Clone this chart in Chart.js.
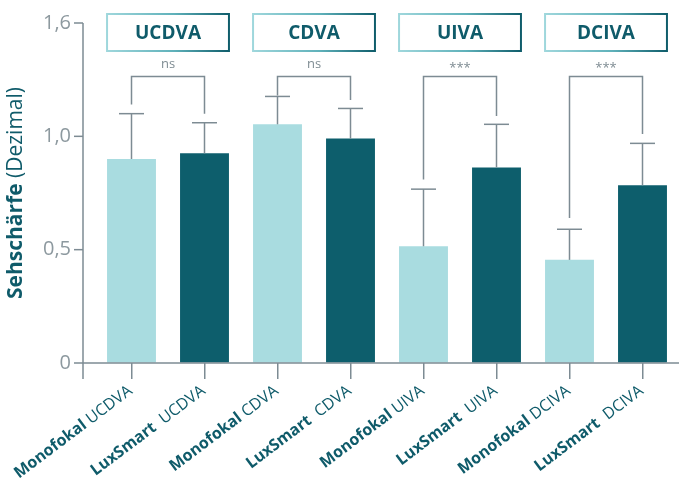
<!DOCTYPE html>
<html>
<head>
<meta charset="utf-8">
<script src="https://cdn.jsdelivr.net/npm/chart.js@4.4.1/dist/chart.umd.min.js"></script>
<style>
  html, body { margin: 0; padding: 0; background: #fff; }
</style>
</head>
<body>
<canvas id="chart" width="682" height="487"></canvas>
<script>
// groups and bar labels
const groups = ['UCDVA', 'CDVA', 'UIVA', 'DCIVA'];
const labelBold = ['Monofokal', 'LuxSmart', 'Monofokal', 'LuxSmart', 'Monofokal', 'LuxSmart', 'Monofokal', 'LuxSmart'];
const labelRest = ['UCDVA', 'UCDVA', 'CDVA', 'CDVA', 'UIVA', 'UIVA', 'DCIVA', 'DCIVA'];

// mean visual acuity and top of the error bar
const values = [0.90, 0.925, 1.053, 0.99, 0.515, 0.863, 0.455, 0.784];
const errorTops = [1.10, 1.06, 1.176, 1.123, 0.767, 1.053, 0.59, 0.969];

// significance brackets
const sigLabels = ['ns', 'ns', '***', '***'];
const bracketTop = [1.264, 1.264, 1.264, 1.264];
const legLeftEnd = [1.14, 1.18, 0.81, 0.64];
const legRightEnd = [1.10, 1.16, 1.09, 1.01];

// y axis ticks (the top tick is labelled 1,6 in the original)
const yTickValues = [0, 0.5, 1.0, 1.5];
const yTickLabels = ['0', '0,5', '1,0', '1,6'];

const light = '#a9dce0';
const dark = '#0d5e6c';
const teal = '#0f5b6a';
const grey = '#7d8b93';

function line(ctx, x0, y0, x1, y1) {
  ctx.beginPath();
  ctx.moveTo(x0, y0);
  ctx.lineTo(x1, y1);
  ctx.stroke();
}

const overlay = {
  id: 'overlay',
  afterDatasetsDraw(chart) {
    const { ctx, chartArea: a, scales: { x, y } } = chart;
    const bars = chart.getDatasetMeta(0).data;
    ctx.save();
    ctx.strokeStyle = grey;
    ctx.lineWidth = 1.5;

    // error bars (upper part only)
    bars.forEach((b, i) => {
      const top = y.getPixelForValue(errorTops[i]);
      line(ctx, b.x, b.y, b.x, top);
      line(ctx, b.x - 12.5, top, b.x + 12.5, top);
    });

    groups.forEach((g, k) => {
      const l = bars[2 * k], r = bars[2 * k + 1];
      const yt = y.getPixelForValue(bracketTop[k]);
      ctx.strokeStyle = grey;
      ctx.lineWidth = 1.5;
      ctx.beginPath();
      ctx.moveTo(l.x, y.getPixelForValue(legLeftEnd[k]));
      ctx.lineTo(l.x, yt);
      ctx.lineTo(r.x, yt);
      ctx.lineTo(r.x, y.getPixelForValue(legRightEnd[k]));
      ctx.stroke();

      ctx.fillStyle = '#7f8c93';
      ctx.font = '13px "Open Sans"';
      ctx.textAlign = 'center';
      if (sigLabels[k] === 'ns') {
        ctx.textBaseline = 'alphabetic';
        ctx.fillText(sigLabels[k], (l.x + r.x) / 2, yt - 8);
      } else {
        ctx.textBaseline = 'middle';
        ctx.fillText(sigLabels[k], (l.x + r.x) / 2, yt - 8);
      }

      // header box
      const bx0 = l.x - l.width / 2, bx1 = r.x + r.width / 2;
      const by = a.top - 9, bh = 37;
      const grad = ctx.createLinearGradient(bx0, 0, bx1, 0);
      grad.addColorStop(0, '#9fd7dc');
      grad.addColorStop(0.55, '#5fb1ba');
      grad.addColorStop(1, '#0f5d6b');
      ctx.strokeStyle = grad;
      ctx.lineWidth = 2;
      ctx.strokeRect(bx0, by, bx1 - bx0, bh);
      ctx.fillStyle = teal;
      ctx.font = 'bold 19px "Open Sans"';
      ctx.textBaseline = 'middle';
      ctx.fillText(g, (bx0 + bx1) / 2, by + bh / 2 + 1);
    });
    ctx.restore();
  },
  afterDraw(chart) {
    const { ctx, chartArea: a, scales: { x, y } } = chart;
    ctx.save();
    const axisX = a.left - 12;
    ctx.strokeStyle = grey;
    ctx.lineWidth = 1.5;
    // axes
    line(ctx, axisX, y.getPixelForValue(yTickValues[yTickValues.length - 1]), axisX, a.bottom + 16);
    line(ctx, axisX, a.bottom, a.right, a.bottom);
    yTickValues.forEach(v => {
      const py = y.getPixelForValue(v);
      line(ctx, axisX - 9, py, axisX, py);
    });

    // x labels: bold lens name + regular measure
    ctx.fillStyle = teal;
    ctx.textAlign = 'left';
    ctx.textBaseline = 'middle';
    labelBold.forEach((bold, i) => {
      const tx = x.getPixelForTick(i);
      ctx.save();
      ctx.translate(tx - 1, a.bottom + 26);
      ctx.rotate(-37 * Math.PI / 180);
      ctx.font = '16px "Open Sans"';
      const gap = bold === 'LuxSmart' ? '  ' : ' ';
      const rest = gap + labelRest[i];
      const wr = ctx.measureText(rest).width;
      ctx.font = 'bold 16px "Open Sans"';
      const wb = ctx.measureText(bold).width;
      ctx.fillText(bold, -wr - wb, 0);
      ctx.font = '16px "Open Sans"';
      ctx.fillText(rest, -wr, 0);
      ctx.restore();
    });

    // y title
    ctx.save();
    ctx.translate(16, (a.top + a.bottom) / 2);
    ctx.rotate(-Math.PI / 2);
    ctx.textBaseline = 'middle';
    ctx.font = 'bold 21px "Open Sans"';
    const t1 = 'Sehschärfe';
    const w1 = ctx.measureText(t1).width;
    ctx.font = '21px "Open Sans"';
    const t2 = ' (Dezimal)';
    const w2 = ctx.measureText(t2).width;
    const start = -(w1 + w2) / 2;
    ctx.font = 'bold 21px "Open Sans"';
    ctx.fillText(t1, start, 0);
    ctx.font = '21px "Open Sans"';
    ctx.fillText(t2, start + w1, 0);
    ctx.restore();
    ctx.restore();
  }
};

new Chart(document.getElementById('chart'), {
  type: 'bar',
  data: {
    labels: labelBold.map((b, i) => b + ' ' + labelRest[i]),
    datasets: [{
      data: values,
      backgroundColor: values.map((v, i) => i % 2 === 0 ? light : dark),
      borderWidth: 0,
      barPercentage: 0.67,
      categoryPercentage: 1.0
    }]
  },
  options: {
    responsive: false,
    animation: false,
    devicePixelRatio: 1,
    layout: { padding: { top: 23, right: 3, left: 0, bottom: 0 } },
    plugins: {
      legend: { display: false },
      tooltip: { enabled: false }
    },
    scales: {
      x: {
        offset: true,
        border: { display: false },
        grid: {
          offset: false,
          drawOnChartArea: false,
          drawTicks: true,
          tickLength: 16,
          color: grey,
          lineWidth: 1.5
        },
        ticks: { display: false },
        afterFit(scale) { scale.height = 124; }
      },
      y: {
        min: 0,
        max: 1.5,
        border: { display: false },
        // invisible tick marks push the labels away from the plot without adding vertical padding
        grid: {
          display: true,
          drawOnChartArea: false,
          drawTicks: true,
          tickLength: 22,
          color: 'rgba(0,0,0,0)'
        },
        afterBuildTicks(scale) {
          scale.ticks = yTickValues.map(v => ({ value: v }));
        },
        ticks: {
          padding: 2,
          color: '#8d999f',
          font: { family: 'Open Sans', size: 20 },
          callback(value) {
            const i = yTickValues.indexOf(value);
            return i >= 0 ? yTickLabels[i] : '';
          }
        },
        afterFit(scale) { scale.width = 95; }
      }
    }
  },
  plugins: [overlay]
});
</script>
</body>
</html>
